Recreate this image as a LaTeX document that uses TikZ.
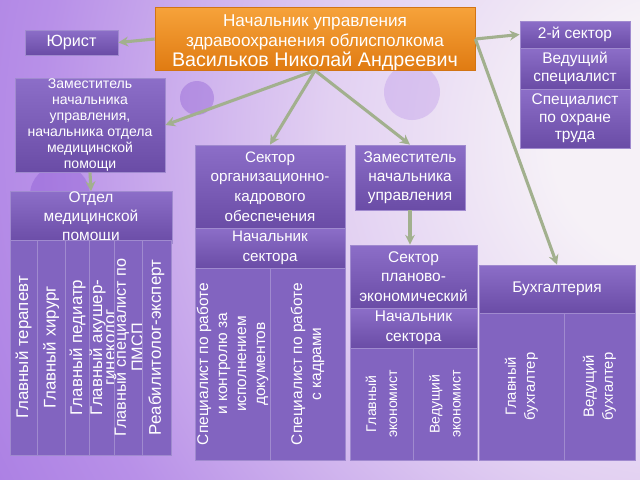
\documentclass[tikz,border=0pt]{standalone}
\usepackage{fontspec}
\setmainfont{Liberation Sans}
\usetikzlibrary{arrows.meta}

\definecolor{bgA}{HTML}{F6F1F7}
\definecolor{bgB}{HTML}{E2D0F2}
\definecolor{bgC}{HTML}{B890E8}
\definecolor{bgD}{HTML}{9C6CDE}
\definecolor{bgE}{HTML}{8450D0}
\definecolor{bgF}{HTML}{743CC4}
\definecolor{boxtop}{HTML}{8C6EC8}
\definecolor{boxbot}{HTML}{6A4CA6}
\definecolor{boxline}{HTML}{A08ACF}
\definecolor{colfill}{HTML}{8264C0}
\definecolor{ortop}{HTML}{F6A23A}
\definecolor{orbot}{HTML}{E07B12}
\definecolor{orline}{HTML}{D27414}
\definecolor{linkc}{HTML}{A2B08E}

\pgfdeclareradialshading{bgshade}{\pgfpoint{0bp}{0bp}}{color(0bp)=(bgA); color(4bp)=(bgA); color(11bp)=(bgB); color(20bp)=(bgC); color(29bp)=(bgD); color(40bp)=(bgE); color(50bp)=(bgF)}

\newcommand{\fs}[2]{\fontsize{#1}{#2}\selectfont}

\tikzset{every picture/.style={line width=0.75pt}}
\tikzset{
  sz/.style 2 args={minimum width=#1*0.025cm, minimum height=#2*0.025cm},
  box/.style={draw=boxline, line width=0.5pt, top color=boxtop, bottom color=boxbot, text=white, inner sep=0pt, align=center},
  col/.style={draw=boxline, line width=0.5pt, fill=colfill, text=white, inner sep=0pt, align=center, rotate=90},
  chiefbox/.style={draw=orline, line width=0.5pt, top color=ortop, bottom color=orbot, text=white, inner sep=0pt, align=center},
  link/.style={draw=linkc, line width=2.2pt, -{Stealth[length=7pt,width=7pt]}},
  blob/.style={fill=#1, opacity=0.35}
}

\begin{document}
\begin{tikzpicture}[x=0.025cm,y=-0.025cm]
\useasboundingbox (0,0) rectangle (640,480);
% background
\begin{scope}
\clip (0,0) rectangle (640,480);
\shade[shading=bgshade] (680,140) circle (800);
\fill[blob=bgE] (255,205) circle (42);
\fill[blob=bgE] (197,98) circle (17);
\fill[blob=bgC] (412,92) circle (28);
\fill[blob=bgE] (60,195) circle (30);
\end{scope}

% head
\node[chiefbox, sz={320}{62}, text height=41.4pt, font=\fs{12.2}{14}] (chief) at (315,39) {Начальник управления\\здравоохранения облисполкома\\{\fs{14}{14}Васильков Николай Андреевич}};
\node[box, sz={93}{25}, font=\fs{11.5}{13}] (jurist) at (71.5,42.5) {Юрист};

% right stack
\node[box, sz={110}{27}, font=\fs{11}{12.4}] (sectorTwo) at (575,34.5) {2-й сектор};
\node[box, sz={110}{41}, font=\fs{11}{12.4}] (leadSpec) at (575,68.5) {Ведущий\\специалист};
\node[box, sz={110}{59}, font=\fs{11}{12.4}] (safetySpec) at (575,118.5) {Специалист\\по охране\\труда};

% medical department
\node[box, sz={150}{94}, font=\fs{10}{11.5}] (deputyA) at (90,125) {Заместитель\\начальника\\управления,\\начальника отдела\\медицинской\\помощи};
\node[box, sz={162}{45}, font=\fs{11}{13.5}] (medDept) at (91,217.5) {Отдел\\медицинской\\помощи};
\node[col, sz={215}{27}, font=\fs{12}{9.5}] (medA) at (23.5,347.5) {Главный терапевт};
\node[col, sz={215}{28}, font=\fs{12}{9.5}] (medB) at (51,347.5) {Главный хирург};
\node[col, sz={215}{25}, font=\fs{12}{9.5}] (medC) at (77.5,347.5) {Главный педиатр};
\node[col, sz={215}{25}, font=\fs{12}{9.5}] (medD) at (102.5,347.5) {Главный акушер-\\гинеколог};
\node[col, sz={215}{27}, font=\fs{11.5}{12}] (medE) at (128.5,347.5) {Главный специалист по\\ПМСП};
\node[col, sz={215}{29}, font=\fs{12}{9.5}] (medF) at (156.5,347.5) {Реабилитолог-эксперт};

% HR sector
\node[box, sz={150}{83}, font=\fs{10.8}{14}] (hrSec) at (270,186.5) {Сектор\\организационно-\\кадрового\\обеспечения};
\node[box, sz={150}{40}, font=\fs{10.8}{14}] (hrHead) at (270,248) {Начальник\\сектора};
\node[col, sz={192}{75}, font=\fs{11}{13.5}] (hrA) at (232.5,364) {Специалист по работе\\и контролю за\\исполнением\\документов};
\node[col, sz={192}{75}, font=\fs{11}{13.5}] (hrB) at (307.5,364) {Специалист по работе\\с кадрами};

% planning sector
\node[box, sz={110}{65}, font=\fs{11}{13.5}] (deputyB) at (410,177.5) {Заместитель\\начальника\\управления};
\node[box, sz={127}{63}, font=\fs{11}{14}] (planSec) at (413.5,276.5) {Сектор\\планово-\\экономический};
\node[box, sz={127}{40}, font=\fs{11}{14}] (planHead) at (413.5,328) {Начальник\\сектора};
\node[col, sz={112}{63}, font=\fs{10}{15}] (planA) at (381.5,404) {Главный\\экономист};
\node[col, sz={112}{64}, font=\fs{10}{15}] (planB) at (445,404) {Ведущий\\экономист};

% accounting
\node[box, sz={156}{48}, font=\fs{11}{13}] (accDept) at (557,289) {Бухгалтерия};
\node[col, sz={147}{85}, font=\fs{10.5}{13.5}] (accA) at (521.5,386.5) {Главный\\бухгалтер};
\node[col, sz={147}{71}, font=\fs{10.5}{13.5}] (accB) at (599.5,386.5) {Ведущий\\бухгалтер};

% links
\draw[link] (chief.west) -- (jurist.east);
\draw[link] (chief.east) -- (sectorTwo.west);
\draw[link] (chief.south) -- (deputyA.east);
\draw[link] (chief.south) -- (hrSec.north);
\draw[link] (chief.south) -- (deputyB.north);
\draw[link] (chief.east) -- (accDept.north);
\draw[link] (deputyA.south) -- (medDept.north);
\draw[link] (deputyB.south) -- (deputyB.south |- planSec.north);
\end{tikzpicture}
\end{document}
